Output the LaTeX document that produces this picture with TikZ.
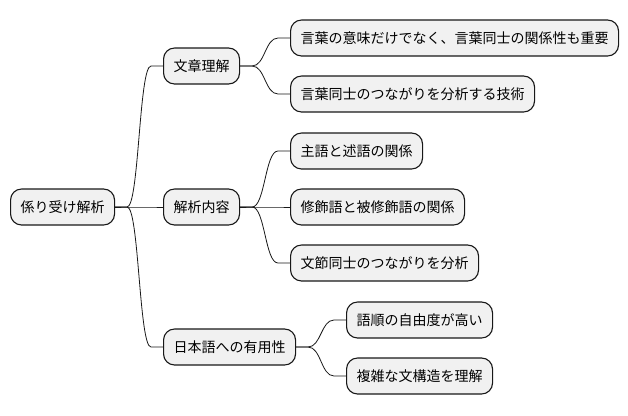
\documentclass[tikz,border=0pt]{standalone}
\usepackage{fontspec}
\setmainfont{Noto Sans CJK JP}
\usepackage{xcolor}
\usepackage{tikz}
\usetikzlibrary{calc, positioning}

\definecolor{boxfill}{HTML}{F1F1F1}
\definecolor{boxline}{HTML}{181818}

\begin{document}
\begin{tikzpicture}[x=1pt, y=-1pt,
    topic/.style={draw=boxline, fill=boxfill, rounded corners=11pt, line width=1.1pt,
        minimum height=36pt, inner xsep=10pt, anchor=west,
        font=\fontsize{14}{16}\selectfont},
    link/.style={line width=0.8pt, draw=boxline}]

    % =================================================================
    % 1. 図の範囲
    % =================================================================
    \useasboundingbox (0,0) rectangle (628,415);

    % =================================================================
    % 2. 中心のトピックと枝
    % =================================================================
    \node[topic] (root) at (10,207) {係り受け解析};

    \node[topic] (bunsho) at (163,66) {文章理解};
    \node[topic] (kaiseki) at (163,207) {解析内容};
    \node[topic] (nihongo) at (163,347) {日本語への有用性};

    % =================================================================
    % 3. 葉のトピック
    % =================================================================
    \node[topic] (imi) at (290,38) {言葉の意味だけでなく、言葉同士の関係性も重要};
    \node[topic] (gijutsu) at (290,94) {言葉同士のつながりを分析する技術};

    \node[topic] (shugo) at (290,151) {主語と述語の関係};
    \node[topic] (shushoku) at (290,207) {修飾語と被修飾語の関係};
    \node[topic] (bunsetsu) at (290,263) {文節同士のつながりを分析};

    \node[topic] (gojun) at (346,320) {語順の自由度が高い};
    \node[topic] (fukuzatsu) at (346,376) {複雑な文構造を理解};

    % =================================================================
    % 4. 親から子への曲線
    % =================================================================
    \foreach \a/\b in {root/bunsho, root/kaiseki, root/nihongo,
                       bunsho/imi, bunsho/gijutsu,
                       kaiseki/shugo, kaiseki/shushoku, kaiseki/bunsetsu,
                       nihongo/gojun, nihongo/fukuzatsu}
        \draw[link] let \p1=(\a.east), \p2=(\b.west) in
            (\p1) -- (\x1+12pt,\y1)
            .. controls ({0.5*\x1+0.5*\x2},\y1) and ({0.5*\x1+0.5*\x2},\y2) ..
            (\x2-12pt,\y2) -- (\p2);

\end{tikzpicture}
\end{document}
